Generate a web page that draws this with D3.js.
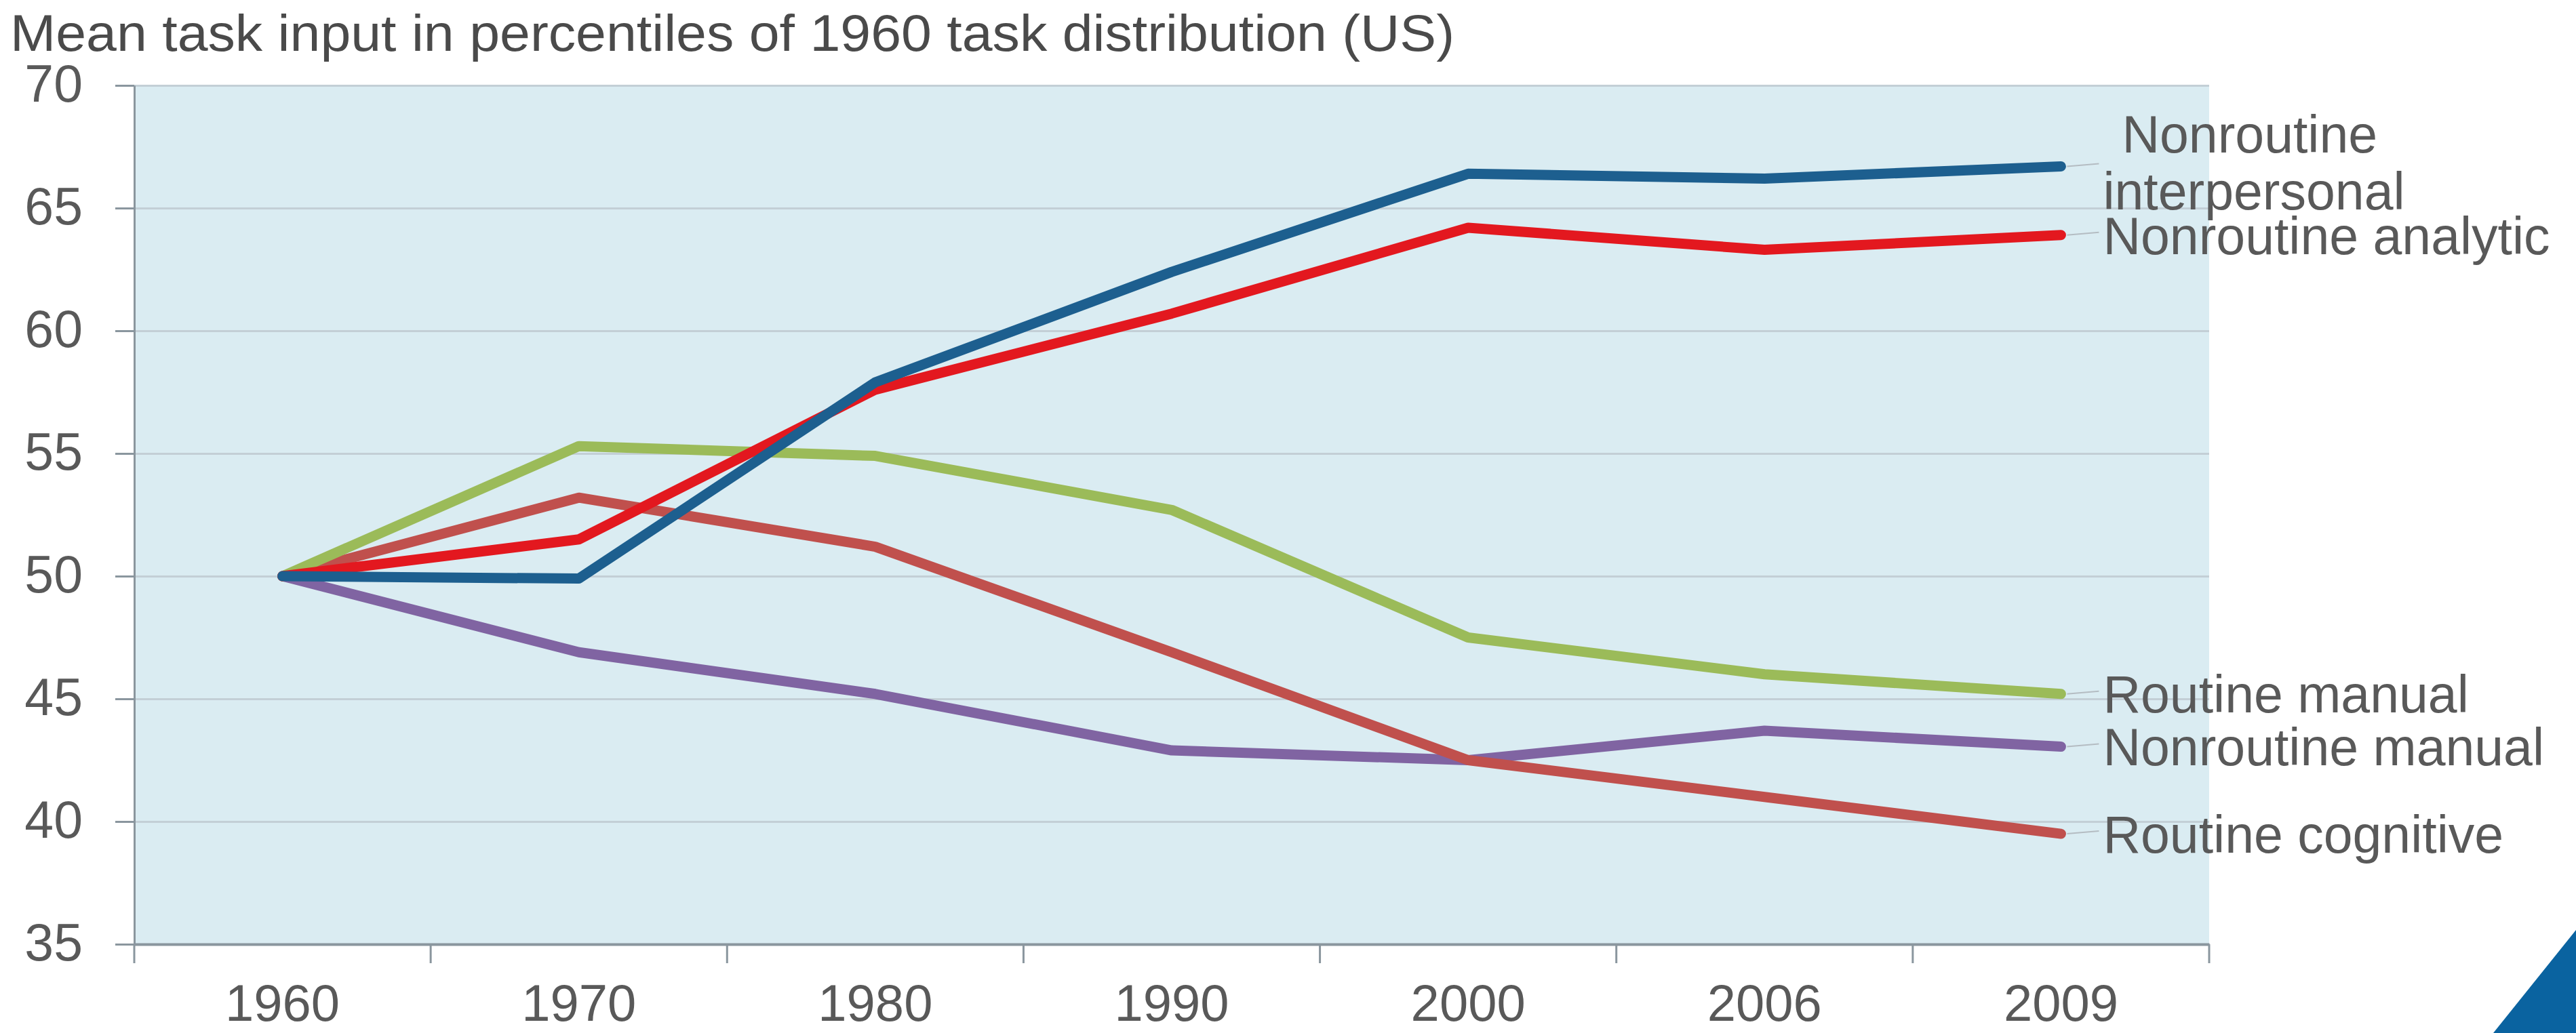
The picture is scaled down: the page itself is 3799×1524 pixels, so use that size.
<!DOCTYPE html>
<html>
<head>
<meta charset="utf-8">
<script src="https://cdn.jsdelivr.net/npm/d3@7"></script>
<style>
  html, body { margin: 0; padding: 0; background: #ffffff; }
  svg { display: block; font-family: "Liberation Sans", Arial, sans-serif; }
</style>
</head>
<body>
<svg id="chart" width="3799" height="1524"></svg>
<script>
const years = ['1960', '1970', '1980', '1990', '2000', '2006', '2009'];
const yTicks = [35, 40, 45, 50, 55, 60, 65, 70];

const nonroutineInterpersonal = [50, 49.9, 57.9, 62.4, 66.4, 66.2, 66.7];
const nonroutineAnalytic = [50, 51.5, 57.6, 60.7, 64.2, 63.3, 63.9];
const routineManual = [50, 55.3, 54.9, 52.7, 47.5, 46.0, 45.2];
const nonroutineManual = [50, 46.9, 45.2, 42.9, 42.5, 43.7, 43.05];
const routineCognitive = [50, 53.2, 51.2, 46.9, 42.5, 41.0, 39.5];

const seriesNames = [
  ['Nonroutine manual'],
  ['Routine cognitive'],
  ['Routine manual'],
  ['Nonroutine analytic'],
  ['Nonroutine', 'interpersonal']
];
const seriesValues = [nonroutineManual, routineCognitive, routineManual, nonroutineAnalytic, nonroutineInterpersonal];
const seriesColors = ['#8064a2', '#c0504d', '#9bbb59', '#e3181f', '#1d5f8f'];

const title = 'Mean task input in percentiles of 1960 task distribution (US)';

const margin = { top: 126, right: 541, bottom: 131, left: 198 };
const svg = d3.select('#chart');
const width = +svg.attr('width') - margin.left - margin.right;
const height = +svg.attr('height') - margin.top - margin.bottom;

const x = d3.scaleBand().domain(years).range([0, width]).padding(0);
const y = d3.scaleLinear().domain([35, 70]).range([height, 0]);

const g = svg.append('g').attr('transform', 'translate(' + margin.left + ',' + margin.top + ')');

// plot background
g.append('rect')
  .attr('width', width)
  .attr('height', height)
  .attr('fill', '#daecf2');

// horizontal gridlines
g.append('g')
  .attr('class', 'grid')
  .call(d3.axisLeft(y).tickValues(yTicks).tickSize(-width).tickFormat(''))
  .call(sel => sel.select('.domain').remove())
  .call(sel => sel.selectAll('line').attr('stroke', '#c3cfd6').attr('stroke-width', 3));

// y axis
g.append('g')
  .call(d3.axisLeft(y).tickValues(yTicks).tickSize(28).tickPadding(48).tickSizeOuter(0))
  .call(sel => sel.select('.domain').attr('stroke', '#8a969e').attr('stroke-width', 3))
  .call(sel => sel.selectAll('.tick line').attr('stroke', '#8a969e').attr('stroke-width', 3))
  .call(sel => sel.selectAll('.tick text')
    .attr('fill', '#595959')
    .attr('font-size', 77)
    .attr('font-family', '"Liberation Sans", Arial, sans-serif')
    .attr('dy', '0.3em'));

// x axis: labels centred in bands, ticks on band boundaries
const xAxis = g.append('g').attr('transform', 'translate(0,' + height + ')');
xAxis.call(d3.axisBottom(x).tickSize(0).tickPadding(59))
  .call(sel => sel.select('.domain').attr('stroke', '#8a969e').attr('stroke-width', 4))
  .call(sel => sel.selectAll('.tick text')
    .attr('fill', '#595959')
    .attr('font-size', 76)
    .attr('font-family', '"Liberation Sans", Arial, sans-serif'));

const boundaries = years.map(d => x(d)).concat([x.range()[1]]);
xAxis.selectAll('line.boundary')
  .data(boundaries)
  .enter().append('line')
  .attr('class', 'boundary')
  .attr('x1', d => d).attr('x2', d => d)
  .attr('y1', 0).attr('y2', 28)
  .attr('stroke', '#8a969e')
  .attr('stroke-width', 3);

// series lines
const line = d3.line()
  .x((d, i) => x(years[i]) + x.bandwidth() / 2)
  .y(d => y(d));

g.selectAll('path.series')
  .data(seriesValues)
  .enter().append('path')
  .attr('class', 'series')
  .attr('d', d => line(d))
  .attr('fill', 'none')
  .attr('stroke', (d, i) => seriesColors[i])
  .attr('stroke-width', 15)
  .attr('stroke-linejoin', 'round')
  .attr('stroke-linecap', 'round');

// end labels with thin leaders
const labelX = x(years[years.length - 1]) + x.bandwidth() / 2 + 62;
const lastY = d => y(d[d.length - 1]);

g.selectAll('line.leader')
  .data(seriesValues)
  .enter().append('line')
  .attr('class', 'leader')
  .attr('x1', x(years[years.length - 1]) + x.bandwidth() / 2 + 9)
  .attr('x2', labelX - 6)
  .attr('y1', d => lastY(d))
  .attr('y2', d => lastY(d) - 4)
  .attr('stroke', '#b4bcc2')
  .attr('stroke-width', 2);

const labels = g.selectAll('text.series-label')
  .data(seriesValues)
  .enter().append('text')
  .attr('class', 'series-label')
  .attr('x', labelX)
  .attr('y', d => lastY(d))
  .attr('fill', '#595959')
  .attr('font-size', 77);

labels.each(function(d, i) {
  const lines = seriesNames[i];
  const el = d3.select(this);
  lines.forEach((txt, j) => {
    el.append('tspan')
      .attr('x', labelX + (lines.length > 1 && j === 0 ? 28 : 0))
      .attr('dy', j === 0 ? (lines.length > 1 ? '-0.26em' : '0.36em') : '1.08em')
      .text(txt);
  });
});

// title
svg.append('text')
  .attr('x', 15)
  .attr('y', 75)
  .attr('fill', '#4a4a4a')
  .attr('font-size', 76)
  .attr('textLength', 2130)
  .attr('lengthAdjust', 'spacingAndGlyphs')
  .text(title);

// corner decoration
svg.append('path')
  .attr('d', 'M3799,1372 L3799,1524 L3677,1524 Z')
  .attr('fill', '#0a63a0');
</script>
</body>
</html>
